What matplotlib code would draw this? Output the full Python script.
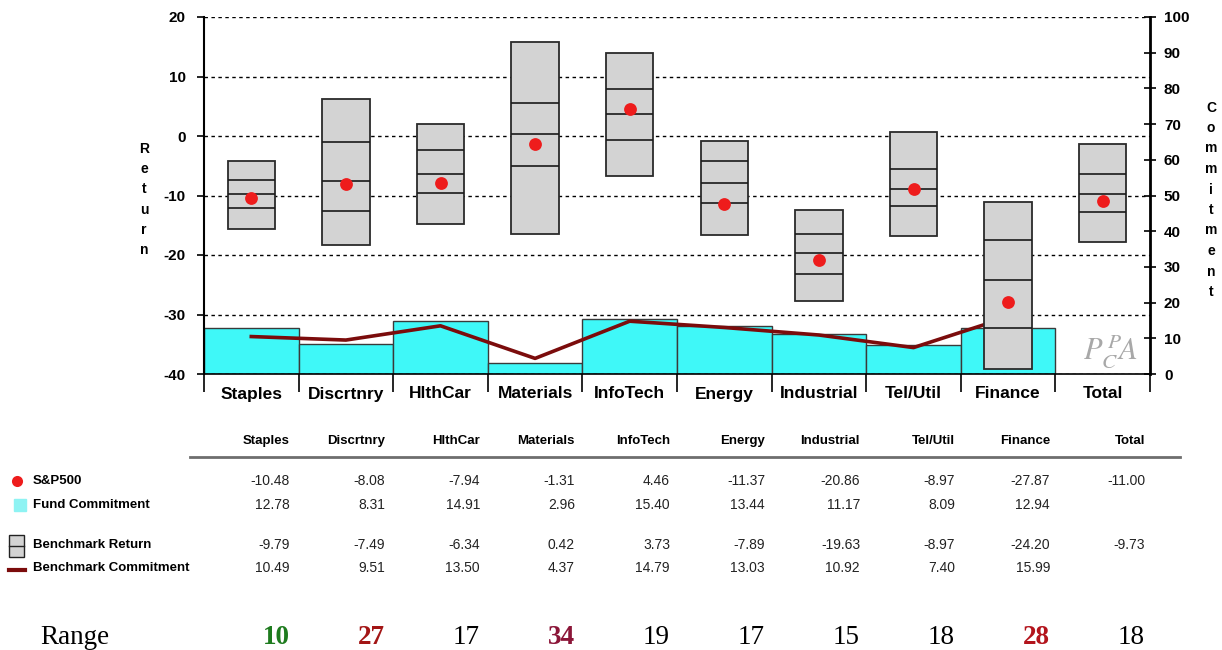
import matplotlib
matplotlib.use("Agg")
import matplotlib.pyplot as plt
from matplotlib.patches import Rectangle
import numpy as np

plt.rcParams['font.family'] = ['Liberation Sans', 'DejaVu Sans']
plt.rcParams['axes.unicode_minus'] = False

# sector data
sectors = ["Staples", "Discrtnry", "HlthCar", "Materials", "InfoTech",
           "Energy", "Industrial", "Tel/Util", "Finance", "Total"]
sp500 = [-10.48, -8.08, -7.94, -1.31, 4.46, -11.37, -20.86, -8.97, -27.87, -11.00]
fund_commit = [12.78, 8.31, 14.91, 2.96, 15.40, 13.44, 11.17, 8.09, 12.94]
bench_return = [-9.79, -7.49, -6.34, 0.42, 3.73, -7.89, -19.63, -8.97, -24.20, -9.73]
bench_commit = [10.49, 9.51, 13.50, 4.37, 14.79, 13.03, 10.92, 7.40, 15.99]

# box extents (return axis)
box_top = [-4.26, 6.22, 1.96, 15.80, 13.89, -0.89, -12.38, 0.62, -11.09, -1.29]
box_upper = [-7.45, -1.06, -2.35, 5.60, 7.90, -4.15, -16.42, -5.60, -17.48, -6.39]
box_lower = [-12.15, -12.55, -9.58, -5.04, -0.67, -11.31, -23.25, -11.71, -32.3, -12.83]
box_bottom = [-15.57, -18.37, -14.73, -16.47, -6.78, -16.64, -27.73, -16.86, -39.2, -17.87]

ranges = [10, 27, 17, 34, 19, 17, 15, 18, 28, 18]
range_colors = ['#1e7b1e', '#a31515', 'black', '#8b1538', 'black',
                'black', 'black', 'black', '#b3141c', 'black']

cyan = '#3ff8f8'
maroon = '#7b0c0c'
red = '#ee1c1c'

W, H = 1222, 650
fig = plt.figure(figsize=(W / 100, H / 100), dpi=100)
ax = fig.add_axes([204 / W, 1 - 374 / H, 946 / W, 357 / H])
ax2 = ax.twinx()
ax.set_zorder(ax2.get_zorder() + 1)
ax.patch.set_visible(False)

x = np.arange(len(sectors))
n = len(fund_commit)

# commitment (right axis)
ax2.bar(x[:n], fund_commit, width=1.0, color=cyan, edgecolor='#3a3a3a', linewidth=1.0)
ax2.plot(x[:n], bench_commit, color=maroon, lw=2.6)
ax2.set_ylim(0, 100)
ax2.set_yticks(range(0, 101, 10))
ax2.tick_params(axis='y', direction='inout', length=8, width=1.2, labelsize=11, pad=6)
for lab in ax2.get_yticklabels():
    lab.set_fontweight('bold')
for s in ['top', 'left', 'bottom']:
    ax2.spines[s].set_visible(False)
ax2.spines['right'].set_linewidth(2)

# return boxes (left axis)
top = np.array(box_top)
bot = np.array(box_bottom)
ax.bar(x, top - bot, bottom=bot, width=0.5, color='#d3d3d3',
       edgecolor='#2a2a2a', linewidth=1.3, zorder=3)
for vals in (box_upper, bench_return, box_lower):
    ax.hlines(vals, x - 0.25, x + 0.25, colors='#1a1a1a', lw=1.2, zorder=4)
ax.scatter(x, sp500, s=85, color=red, zorder=5, linewidths=0)

ax.set_xlim(-0.5, 9.5)
ax.set_ylim(-40, 20)
ax.set_yticks(range(-40, 21, 10))
ax.yaxis.grid(True, linestyle=(0, (2.5, 2.5)), color='black', lw=1)
ax.set_axisbelow(True)
ax.tick_params(axis='y', direction='out', length=5, width=1.2, labelsize=11, pad=8)
for lab in ax.get_yticklabels():
    lab.set_fontweight('bold')

ax.set_xticks(np.arange(-0.5, 10, 1))
ax.set_xticklabels([])
ax.tick_params(axis='x', which='major', direction='out', length=13, width=1.2)
ax.set_xticks(x, minor=True)
ax.set_xticklabels(sectors, minor=True, fontsize=12.5, fontweight='bold')
ax.tick_params(axis='x', which='minor', length=0, pad=9)

ax.spines['top'].set_visible(False)
ax.spines['right'].set_visible(False)
ax.spines['left'].set_linewidth(1.5)
ax.spines['bottom'].set_linewidth(1.2)

# overlay in pixel coordinates for table, labels and logo
ov = fig.add_axes([0, 0, 1, 1])
ov.set_xlim(0, W)
ov.set_ylim(H, 0)
ov.axis('off')

for i, ch in enumerate("Return"):
    ov.text(144, 149 + i * 20.2, ch, ha='center', va='center', fontsize=10, fontweight='bold')
for i, ch in enumerate("Commitment"):
    ov.text(1211, 107.5 + i * 20.5, ch, ha='center', va='center', fontsize=10, fontweight='bold')

# PCPA logo as one text
ov.text(1110, 351, r"$P_C^{\,P}\!A$", math_fontfamily='stix', color='#a8a8a8',
        fontsize=22, ha='center', va='center')

# table
col_right = [290 + 95 * k for k in range(len(sectors))]
for name, xr in zip(sectors, col_right):
    ov.text(xr, 441, name, ha='right', va='center', fontsize=9.5, fontweight='bold')
ov.plot([190, 1180], [457, 457], color='#6e6e6e', lw=2)

rows = [(481, sp500), (505, fund_commit), (545, bench_return), (568, bench_commit)]
for yy, vals in rows:
    for v, xr in zip(vals, col_right):
        ov.text(xr, yy, f"{v:.2f}", ha='right', va='center', fontsize=10, color='#222222')

labels = ["S&P500", "Fund Commitment", "Benchmark Return", "Benchmark Commitment"]
for (yy, _), lab in zip(rows, labels):
    ov.text(33, yy, lab, ha='left', va='center', fontsize=9.5, fontweight='bold')

ov.plot(17, 481, 'o', ms=8, color=red, mew=0)
ov.add_patch(Rectangle((14, 499), 12, 12, color='#8ef3f3'))
ov.add_patch(Rectangle((9, 535), 15, 22, fc='#d3d3d3', ec='#222222', lw=1))
ov.plot([9, 24], [546, 546], color='#222222', lw=1)
ov.plot([9, 25], [570, 570], color=maroon, lw=3)

ov.text(40, 637, "Range", ha='left', va='center', family='Liberation Serif', fontsize=19.5)
for r, c, xr in zip(ranges, range_colors, col_right):
    ov.text(xr, 637, str(r), ha='right', va='center', family='Liberation Serif',
            fontsize=19.5, color=c, fontweight='normal' if c == 'black' else 'bold')

fig.savefig("out.png", dpi=100)
